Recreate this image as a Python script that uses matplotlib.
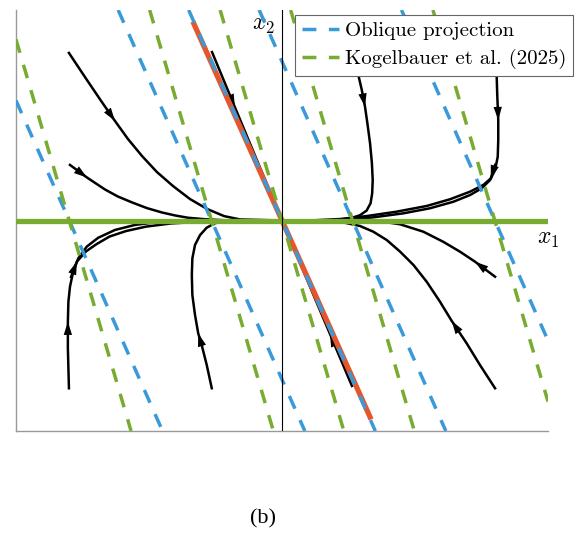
import matplotlib
matplotlib.use("Agg")
import matplotlib.pyplot as plt
from matplotlib.lines import Line2D

plt.rcParams['mathtext.fontset'] = 'cm'

# colours
c_blue = '#3A9AD9'
c_green = '#77AC30'
c_red = '#E4572E'

# fibres: base points on the slow manifold x2 = 0 and their slopes
fibre_base = [-0.8, -0.265, 0.0, 0.265, 0.8]
slope_oblique = -2.85
slope_kogel = -4.3

# fast eigendirection through the origin
fast_x = [-0.335, 0.335]
fast_y = [0.945, -0.945]

# sample trajectories (third entry in each tuple = index of arrow tip)
t1_x = [-0.801, -0.741, -0.680, -0.628, -0.579, -0.526, -0.470, -0.410, -0.346, -0.282, -0.218, -0.158, 0.0]
t1_y = [0.796, 0.682, 0.568, 0.473, 0.387, 0.306, 0.230, 0.164, 0.102, 0.055, 0.021, 0.005, 0.0]

t2_x = [-0.797, -0.733, -0.665, -0.617, -0.564, -0.508, -0.451, -0.402, -0.353, -0.289, -0.214, 0.0]
t2_y = [0.264, 0.204, 0.147, 0.114, 0.086, 0.059, 0.038, 0.024, 0.013, 0.006, 0.001, 0.0]

t3_x = [-0.801, -0.803, -0.805, -0.805, -0.803, -0.797, -0.785, -0.766, -0.734, -0.691, -0.628,
        -0.553, -0.477, -0.377, -0.277, 0.0]
t3_y = [-0.797, -0.702, -0.607, -0.481, -0.386, -0.314, -0.243, -0.180, -0.124, -0.082, -0.045,
        -0.021, -0.009, -0.002, 0.0, 0.0]

t4_x = [-0.793, -0.771, -0.737, -0.697, -0.648, -0.586, -0.511, -0.417, -0.308, -0.195, 0.0]
t4_y = [-0.268, -0.195, -0.147, -0.112, -0.076, -0.050, -0.029, -0.014, -0.006, -0.001, 0.0]

t5_x = [0.287, 0.300, 0.312, 0.321, 0.331, 0.338, 0.341, 0.339, 0.333, 0.318, 0.293, 0.256, 0.206, 0.105, 0.0]
t5_y = [0.691, 0.620, 0.541, 0.462, 0.367, 0.272, 0.192, 0.129, 0.082, 0.047, 0.025, 0.010, 0.002, 0.0, 0.0]

t6_x = [0.807, 0.809, 0.813, 0.813, 0.811, 0.801, 0.782, 0.751, 0.707, 0.644, 0.556, 0.456, 0.343, 0.230, 0.105, 0.0]
t6_y = [0.691, 0.604, 0.477, 0.382, 0.303, 0.240, 0.192, 0.153, 0.121, 0.089, 0.058, 0.034, 0.015, 0.002, 0.0, 0.0]

t7_x = [0.801, 0.785, 0.757, 0.707, 0.632, 0.544, 0.431, 0.318, 0.218, 0.105, 0.0]
t7_y = [0.264, 0.200, 0.169, 0.137, 0.101, 0.069, 0.042, 0.021, 0.007, 0.0, 0.0]

t8_x = [0.801, 0.744, 0.694, 0.638, 0.594, 0.544, 0.494, 0.444, 0.394, 0.343, 0.293, 0.230, 0.168, 0.0]
t8_y = [-0.797, -0.686, -0.583, -0.477, -0.386, -0.291, -0.211, -0.148, -0.093, -0.053, -0.026, -0.009, -0.001, 0.0]

t9_x = [0.801, 0.726, 0.669, 0.606, 0.531, 0.444, 0.356, 0.268, 0.0]
t9_y = [-0.267, -0.196, -0.148, -0.101, -0.053, -0.018, -0.001, 0.0, 0.0]

t10_x = [-0.264, -0.283, -0.302, -0.315, -0.327, -0.337, -0.339, -0.337, -0.327, -0.308, -0.283,
         -0.252, -0.214, -0.177, 0.0]
t10_y = [-0.797, -0.686, -0.591, -0.536, -0.449, -0.354, -0.259, -0.180, -0.116, -0.069, -0.034,
         -0.013, -0.002, 0.0, 0.0]

t11_x = [-0.263, -0.177, 0.0]
t11_y = [0.800, 0.538, 0.0]

t12_x = [0.263, 0.180, 0.0]
t12_y = [-0.786, -0.538, 0.0]

trajectories = [(t1_x, t1_y, 3), (t2_x, t2_y, 1), (t3_x, t3_y, 3), (t4_x, t4_y, 1),
                (t5_x, t5_y, 2), (t6_x, t6_y, 2), (t7_x, t7_y, 1), (t8_x, t8_y, 3),
                (t9_x, t9_y, 1), (t10_x, t10_y, 3), (t11_x, t11_y, 1), (t12_x, t12_y, 1)]

fig = plt.figure(figsize=(5.83, 5.33), dpi=100)
ax = fig.add_axes([16/583, 1 - 431/533, 532/583, 421/533])
ax.set_xlim(-1, 1)
ax.set_ylim(-1, 1)

for xs, ys, k in trajectories:
    ax.plot(xs, ys, color='k', lw=1.8, zorder=2, solid_joinstyle='round')
    ax.annotate('', xy=(xs[k], ys[k]), xytext=(xs[k-1], ys[k-1]),
                arrowprops=dict(arrowstyle='-|>,head_length=0.95,head_width=0.3',
                                color='k', lw=0, shrinkA=0, shrinkB=0, mutation_scale=10),
                zorder=2.1)

ax.plot(fast_x, fast_y, color=c_red, lw=3.8, zorder=3, solid_capstyle='butt')

dash = (0, (4, 3.6))
for b in fibre_base:
    ax.axline((b, 0), slope=slope_oblique, color=c_blue, lw=2.5, linestyle=dash, zorder=4)
    ax.axline((b, 0), slope=slope_kogel, color=c_green, lw=2.5, linestyle=dash, zorder=4.5)

ax.axhline(0, color=c_green, lw=3.8, zorder=5)
ax.axvline(0, color='k', lw=0.8, zorder=5.5)

for side in ['top', 'right']:
    ax.spines[side].set_visible(False)
for side in ['left', 'bottom']:
    ax.spines[side].set_color('#999999')
    ax.spines[side].set_linewidth(1.0)
ax.set_xticks([])
ax.set_yticks([])

ax.text(1.0, -0.083, '$x_1$', fontsize=17, ha='center', va='center', clip_on=False)
ax.text(-0.068, 0.933, '$x_2$', fontsize=17, ha='center', va='center', clip_on=False)

handles = [Line2D([], [], color=c_blue, lw=2.5, linestyle=dash),
           Line2D([], [], color=c_green, lw=2.5, linestyle=dash)]
leg = fig.legend(handles, ['Oblique projection', 'Kogelbauer et al. (2025)'],
                 loc='upper right', bbox_to_anchor=(573/583, 1 - 15/533),
                 bbox_transform=fig.transFigure, borderaxespad=0,
                 prop=dict(family='cmr10', size=15), handlelength=1.8,
                 handletextpad=0.3, borderpad=0.3, labelspacing=0.45,
                 fancybox=False, framealpha=1, edgecolor='#666666')
leg.get_frame().set_linewidth(0.8)

fig.text(263/583, 1 - 519/533, '(b)', family='Liberation Serif', fontsize=16,
         ha='center', va='center')

fig.savefig('out.png', dpi=100)
